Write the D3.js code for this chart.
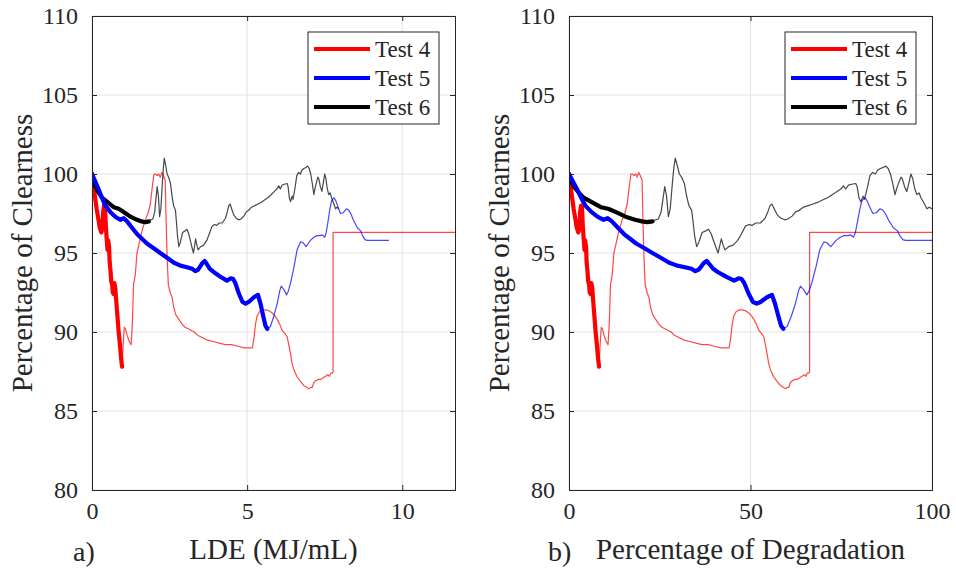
<!DOCTYPE html>
<html>
<head>
<meta charset="utf-8">
<script src="https://cdn.jsdelivr.net/npm/d3@7"></script>
<style>
  html, body { margin: 0; padding: 0; background: #fff; }
  svg { display: block; }
  text { font-family: "Liberation Serif", "Times New Roman", serif; fill: #262626; }
</style>
</head>
<body>
<svg id="chart" width="956" height="569"></svg>
<script>
// ---------------- data (x in LDE, MJ/mL; y in % clearness) ----------------
const seriesNames = ["Test 4", "Test 5", "Test 6"];
const seriesColors = ["#ff0000", "#0000ff", "#000000"];
// degradation (%) per unit LDE for each test (x-axis of panel b)
const degradationPerLDE = [8.53, 10.45, 12.56];

const yTicks = [80, 85, 90, 95, 100, 105, 110];
const xTicksLDE = [0, 5, 10];
const xTicksDeg = [0, 50, 100];

const test4Thick = [[0,100],[0.05,99.3],[0.1,98.5],[0.15,97.8],[0.2,97.2],[0.25,96.6],[0.3,96.3],[0.33,96.5],[0.36,97.6],[0.39,98.0],[0.42,97.9],[0.44,96.9],[0.47,96.0],[0.5,95.2],[0.52,95.8],[0.55,95.4],[0.57,94.4],[0.6,93.8],[0.62,93.2],[0.65,93.0],[0.67,92.5],[0.7,92.4],[0.72,93.1],[0.75,92.8],[0.78,92.0],[0.82,91.0],[0.86,90.0],[0.9,89.2],[0.94,88.3],[0.97,87.8]];
const test4Thin = [[0.97,87.8],[1.0,89.0],[1.04,90.3],[1.08,90.2],[1.13,89.8],[1.2,89.4],[1.26,89.2],[1.3,90.5],[1.34,93.0],[1.4,93.7],[1.45,95.0],[1.52,95.6],[1.6,96.3],[1.7,97.0],[1.8,97.5],[1.88,98.1],[1.95,99.3],[2.0,100],[2.05,100.0],[2.1,99.9],[2.15,100.0],[2.2,99.8],[2.25,100.1],[2.3,99.9],[2.36,99.6],[2.39,97.0],[2.42,94.8],[2.46,93.0],[2.52,92.5],[2.58,92.2],[2.63,91.6],[2.7,91.1],[2.8,90.8],[2.9,90.5],[3.0,90.3],[3.1,90.2],[3.2,90.1],[3.3,90.0],[3.4,89.8],[3.5,89.7],[3.7,89.5],[3.9,89.4],[4.1,89.3],[4.3,89.2],[4.5,89.2],[4.7,89.1],[4.9,89.0],[5.1,89.0],[5.17,89.0],[5.22,89.6],[5.27,90.5],[5.32,91.0],[5.4,91.3],[5.5,91.4],[5.6,91.4],[5.7,91.35],[5.81,91.2],[5.9,91.0],[5.97,90.8],[6.05,90.5],[6.13,90.1],[6.22,89.9],[6.29,89.7],[6.35,89.1],[6.4,88.6],[6.45,88.0],[6.51,87.6],[6.6,87.2],[6.67,87.0],[6.75,86.8],[6.83,86.6],[6.92,86.5],[6.99,86.4],[7.05,86.5],[7.1,86.5],[7.15,86.8],[7.2,86.9],[7.3,87.0],[7.37,87.0],[7.45,87.1],[7.53,87.2],[7.6,87.3],[7.65,87.2],[7.7,87.4],[7.74,87.4],[7.77,87.5],[7.77,96.3],[12,96.3]];

const test5Thick = [[0,100],[0.11,99.5],[0.22,99.0],[0.32,98.5],[0.43,98.0],[0.59,97.6],[0.75,97.3],[0.91,97.1],[1.02,97.2],[1.13,97.0],[1.29,96.6],[1.45,96.2],[1.61,95.9],[1.77,95.6],[1.99,95.3],[2.2,95.0],[2.42,94.7],[2.63,94.4],[2.85,94.2],[3.06,94.1],[3.23,94.0],[3.33,93.85],[3.42,93.95],[3.55,94.35],[3.63,94.5],[3.7,94.3],[3.8,94.0],[3.92,93.8],[4.14,93.5],[4.35,93.25],[4.47,93.4],[4.55,93.35],[4.62,93.1],[4.73,92.45],[4.85,91.9],[4.95,91.8],[5.05,91.9],[5.22,92.2],[5.35,92.35],[5.43,91.8],[5.52,91.0],[5.59,90.4],[5.65,90.2]];
const test5Thin = [[5.65,90.2],[5.75,90.35],[5.86,91.0],[5.97,91.8],[6.05,92.6],[6.1,92.9],[6.18,92.7],[6.27,92.35],[6.33,92.6],[6.4,93.1],[6.51,94.1],[6.61,95.2],[6.72,95.7],[6.8,95.65],[6.9,95.4],[6.97,95.6],[7.04,95.8],[7.15,96.0],[7.25,96.1],[7.35,96.1],[7.42,96.15],[7.5,96.0],[7.55,96.3],[7.6,96.9],[7.66,97.7],[7.72,98.3],[7.8,98.5],[7.86,98.3],[7.93,97.9],[8.01,97.5],[8.1,97.55],[8.2,97.8],[8.28,97.7],[8.35,97.45],[8.42,97.1],[8.55,96.6],[8.66,96.4],[8.72,96.1],[8.8,95.85],[8.87,95.8],[9.57,95.8]];

const test6Thick = [[0,100],[0.05,99.5],[0.11,99.2],[0.22,98.8],[0.32,98.5],[0.48,98.25],[0.7,97.9],[0.86,97.8],[1.02,97.6],[1.24,97.3],[1.45,97.1],[1.6,97.0],[1.72,96.95],[1.83,97.0]];
const test6Thin = [[1.83,97.0],[1.9,97.1],[1.96,97.15],[2.02,97.6],[2.07,98.6],[2.1,99.2],[2.14,98.6],[2.18,97.3],[2.22,97.8],[2.27,99.5],[2.3,100.4],[2.33,101.0],[2.37,100.6],[2.42,100.0],[2.47,99.8],[2.53,99.4],[2.58,98.6],[2.63,98.0],[2.69,97.7],[2.72,97.0],[2.76,96.0],[2.8,95.4],[2.85,95.7],[2.92,96.3],[3.0,96.4],[3.06,96.5],[3.12,96.2],[3.18,95.7],[3.23,95.3],[3.27,95.0],[3.31,95.5],[3.34,95.9],[3.38,95.5],[3.42,95.2],[3.5,95.4],[3.6,95.5],[3.7,95.8],[3.78,96.2],[3.87,96.7],[3.95,96.8],[4.02,96.75],[4.1,96.9],[4.2,96.9],[4.3,97.2],[4.36,97.6],[4.41,98.0],[4.45,98.1],[4.5,97.8],[4.57,97.4],[4.65,97.2],[4.73,97.1],[4.8,97.15],[4.9,97.35],[4.97,97.6],[5.05,97.7],[5.14,97.9],[5.25,98.0],[5.35,98.1],[5.45,98.2],[5.56,98.35],[5.67,98.5],[5.78,98.7],[5.88,98.9],[5.96,99.05],[6.02,99.25],[6.07,99.05],[6.13,99.3],[6.2,99.35],[6.29,99.4],[6.32,99.2],[6.36,98.5],[6.4,98.25],[6.45,98.6],[6.48,98.4],[6.55,99.2],[6.6,99.9],[6.66,100.1],[6.72,100.0],[6.77,100.25],[6.83,100.35],[6.88,100.4],[6.95,100.5],[7.0,100.35],[7.05,100.0],[7.1,99.4],[7.15,98.7],[7.2,99.2],[7.24,99.5],[7.28,99.8],[7.31,99.7],[7.36,99.2],[7.41,98.9],[7.46,99.5],[7.5,100.0],[7.54,99.7],[7.58,99.1],[7.63,98.7],[7.68,98.8],[7.72,98.5],[7.78,98.2],[7.85,97.8],[7.9,97.9],[7.96,97.8]];

const thickSeries = [test4Thick, test5Thick, test6Thick];
const thinSeries = [test4Thin, test5Thin, test6Thin];

// ---------------- drawing ----------------
const svg = d3.select("#chart");
const plotTop = 16, plotBottom = 490;
const axisColor = "#262626";
const gridColor = "#e3e3e3";

function panel(cfg) {
  const x = d3.scaleLinear().domain(cfg.xDomain).range([cfg.left, cfg.right]);
  const y = d3.scaleLinear().domain([80, 110]).range([plotBottom, plotTop]);
  const g = svg.append("g");
  const clipId = "clip" + cfg.id;
  svg.append("defs").append("clipPath").attr("id", clipId)
    .append("rect").attr("x", cfg.left).attr("y", plotTop)
    .attr("width", cfg.right - cfg.left).attr("height", plotBottom - plotTop);

  // grid
  g.append("g").selectAll("line").data(cfg.xTicks).join("line")
    .attr("x1", d => x(d)).attr("x2", d => x(d)).attr("y1", plotTop).attr("y2", plotBottom)
    .attr("stroke", gridColor).attr("stroke-width", 1);
  g.append("g").selectAll("line").data(yTicks).join("line")
    .attr("y1", d => y(d)).attr("y2", d => y(d)).attr("x1", cfg.left).attr("x2", cfg.right)
    .attr("stroke", gridColor).attr("stroke-width", 1);

  // data lines
  const plot = g.append("g").attr("clip-path", `url(#${clipId})`);
  const order = [0, 2, 1];
  order.forEach(i => {
    const k = cfg.xFactor ? degradationPerLDE[i] : 1;
    const line = d3.line().x(d => x(d[0] * k)).y(d => y(d[1]));
    plot.append("path").datum(thinSeries[i]).attr("d", line)
      .attr("fill", "none").attr("stroke", seriesColors[i])
      .attr("stroke-opacity", 0.72).attr("stroke-width", 1.2)
      .attr("stroke-linejoin", "round");
  });
  order.forEach(i => {
    const k = cfg.xFactor ? degradationPerLDE[i] : 1;
    const line = d3.line().x(d => x(d[0] * k)).y(d => y(d[1]));
    plot.append("path").datum(thickSeries[i]).attr("d", line)
      .attr("fill", "none").attr("stroke", seriesColors[i])
      .attr("stroke-width", 4.2).attr("stroke-linejoin", "round").attr("stroke-linecap", "round");
  });

  // axes (ticks inward on all sides)
  const tl = 5;
  const axL = d3.axisLeft(y).tickValues(yTicks).tickSize(-tl).tickPadding(14).tickFormat(d3.format("d"));
  const axR = d3.axisRight(y).tickValues(yTicks).tickSize(-tl).tickFormat("");
  const axB = d3.axisBottom(x).tickValues(cfg.xTicks).tickSize(-tl).tickPadding(12).tickFormat(d3.format("d"));
  const axT = d3.axisTop(x).tickValues(cfg.xTicks).tickSize(-tl).tickFormat("");
  [[axL, `translate(${cfg.left},0)`], [axR, `translate(${cfg.right},0)`],
   [axB, `translate(0,${plotBottom})`], [axT, `translate(0,${plotTop})`]].forEach(([ax, tr]) => {
    const a = g.append("g").attr("transform", tr).call(ax);
    a.select(".domain").attr("stroke", axisColor).attr("stroke-width", 1);
    a.selectAll(".tick line").attr("stroke", axisColor).attr("stroke-width", 1);
    a.selectAll(".tick text").style("font-family", '"Liberation Serif", serif')
      .style("font-size", "24px").attr("fill", axisColor);
  });

  // y label
  g.append("text")
    .attr("transform", `translate(${cfg.left - 60},${(plotTop + plotBottom) / 2}) rotate(-90)`)
    .attr("text-anchor", "middle").style("font-size", "29px")
    .text("Percentage of Clearness");
  // x label
  g.append("text").attr("x", (cfg.left + cfg.right) / 2).attr("y", 559)
    .attr("text-anchor", "middle").style("font-size", "29px").text(cfg.xLabel);
  g.append("text").attr("x", cfg.tagX).attr("y", 561)
    .style("font-size", "28px").text(cfg.tag);

  // legend
  const lx = cfg.right - 147, ly = 32, lw = 131, lh = 92;
  const lg = g.append("g");
  lg.append("rect").attr("x", lx).attr("y", ly).attr("width", lw).attr("height", lh)
    .attr("fill", "#fff").attr("stroke", axisColor).attr("stroke-width", 1);
  seriesNames.forEach((name, i) => {
    const yy = ly + 17 + i * 29;
    lg.append("line").attr("x1", lx + 6).attr("x2", lx + 62).attr("y1", yy).attr("y2", yy)
      .attr("stroke", seriesColors[i]).attr("stroke-width", 4);
    lg.append("text").attr("x", lx + 67).attr("y", yy + 8)
      .style("font-size", "23px").attr("fill", "#000").text(name);
  });
}

panel({ id: "a", left: 92, right: 455, xDomain: [0, 11.7], xTicks: xTicksLDE,
        xFactor: false, xLabel: "LDE (MJ/mL)", tag: "a)", tagX: 73 });
panel({ id: "b", left: 569, right: 932, xDomain: [0, 100], xTicks: xTicksDeg,
        xFactor: true, xLabel: "Percentage of Degradation", tag: "b)", tagX: 548 });
</script>
</body>
</html>
